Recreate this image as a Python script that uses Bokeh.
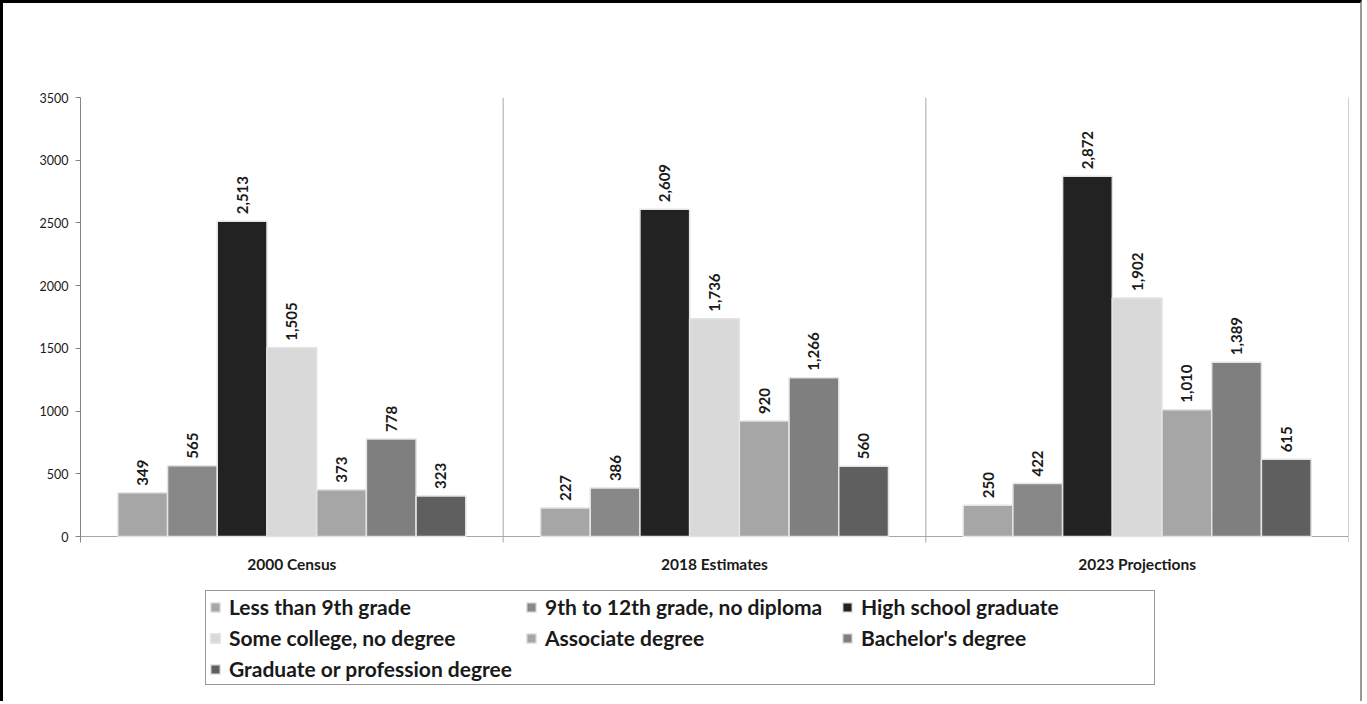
import numpy as np
from bokeh.plotting import figure
from bokeh.models import FixedTicker, Legend, LegendItem, Range1d
from bokeh.core.properties import value
from bokeh.embed import file_html
from bokeh.resources import INLINE

groups = ["2000 Census", "2018 Estimates", "2023 Projections"]
categories = ["Less than 9th grade", "9th to 12th grade, no diploma", "High school graduate",
              "Some college, no degree", "Associate degree", "Bachelor's degree",
              "Graduate or profession degree"]
values_2000 = [349, 565, 2513, 1505, 373, 778, 323]
values_2018 = [227, 386, 2609, 1736, 920, 1266, 560]
values_2023 = [250, 422, 2872, 1902, 1010, 1389, 615]
colors = ["#A6A6A6", "#888888", "#222222", "#D9D9D9", "#A6A6A6", "#7F7F7F", "#5F5F5F"]
y_ticks = [0, 500, 1000, 1500, 2000, 2500, 3000, 3500]

series = [values_2000, values_2018, values_2023]
FONT = value("Lato")
n_cat = len(categories)
n_grp = len(groups)
bar_w = 0.1176

# layout (page pixels): frame top 97, zero line at 536, frame bottom 700
Y_MAX = 3500
px_per_unit = (536 - 97) / Y_MAX
y_min = -(700 - 536) / px_per_unit
tick_len = 6 / px_per_unit

p = figure(width=1362, height=701, x_range=Range1d(0, n_grp), y_range=Range1d(y_min, Y_MAX),
           output_backend="svg", toolbar_location=None, x_axis_location=None,
           min_border_left=77, min_border_right=17, min_border_top=94, min_border_bottom=4)
p.outline_line_color = None
p.xgrid.grid_line_color = None
p.ygrid.grid_line_color = None
p.background_fill_color = "white"
p.border_fill_color = "white"
p.styles = {"border-left": "3px solid #000000", "border-top": "3px solid #000000",
            "border-right": "2px solid #9a9a9a"}

# group separators and category-axis line
bounds = list(range(1, n_grp + 1))
p.segment(x0=bounds, y0=[-tick_len] * len(bounds), x1=bounds, y1=[Y_MAX] * len(bounds),
          line_color="#A6A6A6", line_width=1)
p.segment(x0=[0], y0=[0], x1=[n_grp], y1=[0], line_color="#A6A6A6", line_width=1.2)

items = []
for i, cat in enumerate(categories):
    xs = [g + 0.5 + (i - (n_cat - 1) / 2) * bar_w for g in range(n_grp)]
    tops = [series[g][i] for g in range(n_grp)]
    r = p.vbar(x=xs, top=tops, bottom=0, width=bar_w, fill_color=colors[i],
               line_color="#E4E4E4", line_width=1.5)
    items.append(LegendItem(label=cat, renderers=[r]))
    p.text(x=xs, y=tops, text=[f"{v:,}" for v in tops], angle=np.pi / 2,
           text_align="left", text_baseline="middle", y_offset=-7,
           text_font=FONT, text_font_style="bold", text_font_size="15px", text_color="#1a1a1a")

# group labels
p.text(x=[g + 0.5 for g in range(n_grp)], y=[0] * n_grp, text=groups, y_offset=27,
       text_align="center", text_baseline="middle", text_font=FONT, text_font_style="bold",
       text_font_size="15.5px", text_color="#1a1a1a")

# y axis
ya = p.yaxis[0]
ya.ticker = FixedTicker(ticks=y_ticks)
ya.bounds = (-tick_len, Y_MAX)
ya.axis_line_color = "#868686"
ya.major_tick_line_color = "#868686"
ya.major_tick_out = 5
ya.major_tick_in = 0
ya.minor_tick_line_color = None
ya.major_label_text_font = "Lato"
ya.major_label_text_font_size = "12.5px"
ya.major_label_text_color = "#1a1a1a"
ya.major_label_standoff = 7

legend = Legend(items=items, ncols=3, orientation="horizontal", location=(125, 15),
                border_line_color="#333333", border_line_width=1,
                label_text_font="Lato", label_text_font_style="bold",
                label_text_font_size="21px", label_text_color="#1a1a1a",
                glyph_width=12, glyph_height=12, label_standoff=8,
                spacing=6, padding=3, margin=0, label_height=21, label_width=290)
p.add_layout(legend, "center")

open("out.html", "w").write(file_html(p, INLINE))
